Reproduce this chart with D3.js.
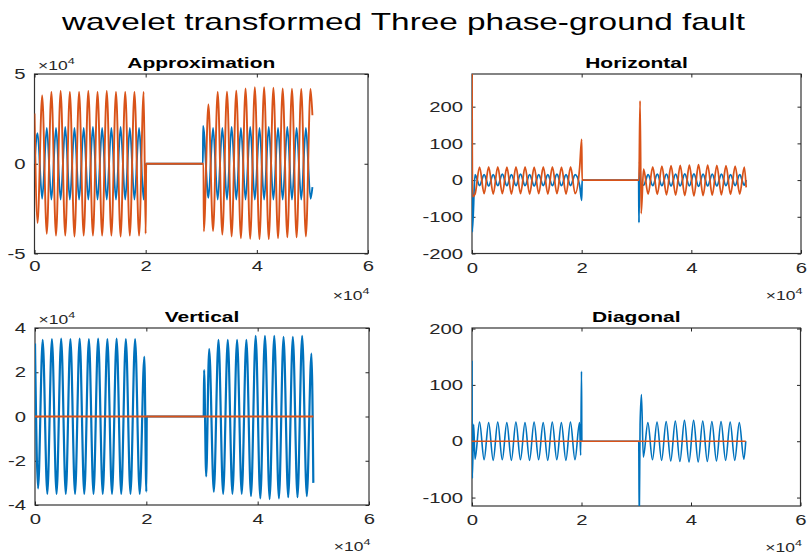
<!DOCTYPE html>
<html><head><meta charset="utf-8">
<script src="https://cdn.jsdelivr.net/npm/d3@7"></script>
<style>
body{margin:0;background:#fff}
svg{display:block}
text{font-family:"Liberation Sans",Arial,Helvetica,sans-serif}
</style>
</head><body>
<svg id="chart" width="809" height="555"></svg>
<script>
// ---------------- DATA ----------------
const mainTitle = "wavelet transformed Three phase-ground fault";
const panelTitles = ["Approximation", "Horizontal", "Vertical", "Diagonal"];
const xTicks = [0, 20000, 40000, 60000];
const approxYTicks = [-50000, 0, 50000];
const horizYTicks = [-200, -100, 0, 100, 200];
const vertYTicks = [-40000, -20000, 0, 20000, 40000];
const diagYTicks = [-100, 0, 100, 200];

// times of the successive extrema in the pre-fault and post-clearing segments
const extremaT1 = [550, 1380, 2210, 3040, 3870, 4700, 5530, 6360, 7190, 8020, 8850, 9680,
  10510, 11340, 12170, 13000, 13830, 14660, 15490, 16320, 17150, 17980, 18810, 19640];
const extremaT2 = [31290, 32125, 32960, 33795, 34630, 35465, 36300, 37135, 37970, 38805, 39640, 40475,
  41310, 42145, 42980, 43815, 44650, 45485, 46320, 47155, 47990, 48825, 49660];

// Approximation
const approxOrange1 = [-33000, 38000, -39000, 40000, -40000, 40500,
  -40000, 40000, -40500, 40000, -40000, 40500,
  -40000, 40000, -40000, 40500, -40000, 40000,
  -40500, 40000, -40000, 40000, -40000, 40000];
const approxOrange2 = [33000, -37500, 40000, -39500, 40200, -40500,
  40700, -41500, 42000, -41800, 42600, -42000,
  42600, -42000, 42300, -41500, 42000, -41000,
  41800, -41000, 41700, -40500, 41700];
const approxOrangeStart = [[0, 28000]];
const approxOrangeMid = [[20000, -39000], [20100, 0], [30400, 0], [30460, -37600]];
const approxOrangeEnd = [[50000, 27000]];
const approxBlue1 = [17000, -19500, 20000, -20000, 20000, -20000,
  20500, -20000, 20000, -20000, 20000, -20000,
  20500, -20000, 20000, -20000, 20000, -20000,
  20500, -20000, 20000, -20000, 20000, -20000];
const approxBlue2 = [-19000, 20000, -20000, 20000, -20000, 20500,
  -20000, 20000, -20000, 20500, -20000, 20000,
  -20000, 20500, -20000, 20000, -20000, 20500,
  -20000, 20000, -20000, 20000, -19500];
const approxBlueStart = [[0, 0]];
const approxBlueMid = [[20000, 0], [30300, 0], [30330, 21000]];
const approxBlueEnd = [[50000, -13000]];

// Horizontal
const horizOrange1 = [-38, 35, -37, 36, -38, 36,
  -37, 35, -38, 36, -37, 36,
  -38, 35, -37, 36, -38, 36,
  -37, 35, -38, 36, -37, 35];
const horizOrange2 = [30, -38, 36, -39, 38, -40,
  39, -41, 40, -42, 41, -43,
  42, -42, 41, -41, 40, -40,
  39, -39, 38, -38, 35];
const horizOrangeStart = [[0, 289], [100, -45]];
const horizOrangeMid = [[20000, 111], [20080, 0], [30450, 0], [30650, 216], [30850, -91]];
const horizOrangeEnd = [[50000, -20]];
const horizBlue1 = [15, -15, 15, -16, 15, -15,
  16, -15, 15, -15, 16, -15,
  15, -16, 15, -15, 15, -15,
  16, -15, 15, -15, 15, -15];
const horizBlue2 = [-14, 15, -15, 16, -15, 16,
  -16, 16, -16, 17, -16, 17,
  -17, 16, -16, 16, -16, 16,
  -15, 15, -15, 15, -14];
const horizBlueStart = [[0, 0], [50, -141]];
const horizBlueMid = [[20000, -55], [20080, 0], [30400, 0], [30450, -116], [30560, 50], [30800, -10]];
const horizBlueEnd = [[50000, 0]];

// Vertical
const vertBlue1 = [-32500, 34700, -35000, 35000, -35000, 35200,
  -35000, 35000, -35000, 35200, -35000, 35000,
  -35000, 35200, -35000, 35000, -35000, 35200,
  -35000, 35000, -35000, 35000, -35000, 27000];
const vertBlue2 = [30500, -34000, 34700, -35000, 34700, -35000,
  34700, -35000, 34700, -36000, 36500, -37000,
  36500, -37300, 36500, -37000, 36000, -36500,
  36000, -36500, 36500, -36000, 28400];
const vertBlueStart = [[0, 33000]];
const vertBlueMid = [[20000, -34000], [20080, 0], [30300, 0], [30380, 21000], [30750, -27000]];
const vertBlueEnd = [[50000, -30000]];
const vertOrangeX = [0, 50000];
const vertOrangeY = [0, 0];

// Diagonal
const diagBlue1 = [-32, 34, -33, 33, -34, 34,
  -33, 33, -34, 34, -33, 33,
  -34, 34, -33, 33, -34, 34,
  -33, 33, -34, 34, -33, 33];
const diagBlue2 = [-28, 33, -33, 34, -34, 35,
  -35, 36, -36, 37, -37, 37,
  -37, 36, -36, 35, -35, 35,
  -34, 34, -34, 33, -32];
const diagBlueStart = [[0, 143], [60, -66], [300, 30]];
const diagBlueMid = [[19850, -25], [20000, 124], [20070, 0], [30450, 0], [30550, -140], [30700, 30], [30950, 83]];
const diagBlueEnd = [[50000, 0]];
const diagOrangeX = [0, 50000];
const diagOrangeY = [0, 0];

// ---------------- BUILD ----------------
const BLUE = "#0072BD", ORANGE = "#D95319", INK = "#262626";
const K = 1.4; // horizontal stretch of the reference's text

function zip(ts, vs) { return ts.map((t, i) => [t, vs[i]]); }
function build(start, v1, mid, v2, end) {
  return [].concat(start, zip(extremaT1, v1), mid, zip(extremaT2, v2), end);
}

const panels = [
  { title: panelTitles[0], l: 34.5, r: 368, t: 74, b: 253.5, yDomain: [-50000, 50000], yTicks: approxYTicks, fmt: d => d / 1e4, yExp: true, xPad: 7, sw: 1.9,
    series: [
      { pts: build(approxBlueStart, approxBlue1, approxBlueMid, approxBlue2, approxBlueEnd), color: BLUE },
      { pts: build(approxOrangeStart, approxOrange1, approxOrangeMid, approxOrange2, approxOrangeEnd), color: ORANGE }
    ] },
  { title: panelTitles[1], l: 472, r: 801, t: 74, b: 253.5, yDomain: [-200, 289], yTicks: horizYTicks, fmt: d => d, yExp: false, xPad: 9, sw: 1.8,
    series: [
      { pts: build(horizBlueStart, horizBlue1, horizBlueMid, horizBlue2, horizBlueEnd), color: BLUE },
      { pts: build(horizOrangeStart, horizOrange1, horizOrangeMid, horizOrange2, horizOrangeEnd), color: ORANGE }
    ] },
  { title: panelTitles[2], l: 35, r: 369, t: 328, b: 505, yDomain: [-40000, 40000], yTicks: vertYTicks, fmt: d => d / 1e4, yExp: true, xPad: 9, sw: 2.2,
    series: [
      { pts: build(vertBlueStart, vertBlue1, vertBlueMid, vertBlue2, vertBlueEnd), color: BLUE },
      { pts: zip(vertOrangeX, vertOrangeY), color: ORANGE }
    ] },
  { title: panelTitles[3], l: 472, r: 800.5, t: 328, b: 506, yDomain: [-115, 201], yTicks: diagYTicks, fmt: d => d, yExp: false, xPad: 9, sw: 1.6,
    series: [
      { pts: build(diagBlueStart, diagBlue1, diagBlueMid, diagBlue2, diagBlueEnd), color: BLUE },
      { pts: zip(diagOrangeX, diagOrangeY), color: ORANGE }
    ] }
];

const svg = d3.select("#chart");
svg.append("rect").attr("width", 809).attr("height", 555).attr("fill", "#fff");

// main title
svg.append("text").attr("x", 62).attr("y", 30)
  .attr("font-size", 24).attr("fill", "#000")
  .attr("textLength", 683).attr("lengthAdjust", "spacingAndGlyphs")
  .text(mainTitle);

function stretchedText(parent, x, y, anchor) {
  return parent.append("g").attr("transform", `translate(${x},${y}) scale(${K},1)`)
    .append("text").attr("text-anchor", anchor);
}

function expLabel(parent, x, y, anchor) {
  const t = stretchedText(parent, x, y, anchor).attr("font-size", 12.5).attr("fill", INK);
  t.append("tspan").text("\u00d710");
  t.append("tspan").attr("font-size", 9).attr("dy", -6).text("4");
}

panels.forEach((p, i) => {
  const x = d3.scaleLinear().domain([0, 60000]).range([p.l, p.r]);
  const y = d3.scaleLinear().domain(p.yDomain).range([p.b, p.t]);
  const g = svg.append("g");

  g.append("rect").attr("x", p.l).attr("y", p.t).attr("width", p.r - p.l).attr("height", p.b - p.t)
    .attr("fill", "#fff").attr("stroke", "#333").attr("stroke-width", 1.2);

  const styleAxis = sel => {
    sel.select(".domain").remove();
    sel.selectAll(".tick line").attr("stroke", INK);
    sel.selectAll("text").attr("fill", INK).attr("font-size", 14.5)
      .attr("font-family", "'Liberation Sans', Arial, sans-serif");
  };

  const bottom = g.append("g").attr("transform", `translate(0,${p.b})`)
    .call(d3.axisBottom(x).tickValues(xTicks).tickFormat(d => d / 1e4).tickSizeInner(-3.5).tickSizeOuter(0).tickPadding(p.xPad));
  styleAxis(bottom);
  bottom.selectAll("text").attr("transform", `scale(${K},1)`);

  const top = g.append("g").attr("transform", `translate(0,${p.t})`)
    .call(d3.axisTop(x).tickValues(xTicks).tickFormat("").tickSizeInner(-3.5).tickSizeOuter(0));
  styleAxis(top);

  const left = g.append("g").attr("transform", `translate(${p.l},0)`)
    .call(d3.axisLeft(y).tickValues(p.yTicks).tickFormat(p.fmt).tickSizeInner(-3.5).tickSizeOuter(0).tickPadding(9));
  styleAxis(left);
  left.selectAll("text").attr("x", -9 / K).attr("transform", `scale(${K},1)`);

  const right = g.append("g").attr("transform", `translate(${p.r},0)`)
    .call(d3.axisRight(y).tickValues(p.yTicks).tickFormat("").tickSizeInner(-3.5).tickSizeOuter(0));
  styleAxis(right);

  // data
  const clipId = "clip" + i;
  svg.append("clipPath").attr("id", clipId).append("rect")
    .attr("x", p.l).attr("y", p.t).attr("width", p.r - p.l).attr("height", p.b - p.t);
  const line = d3.line().x(d => x(d[0])).y(d => y(d[1])).curve(d3.curveMonotoneX);
  const dg = g.append("g").attr("clip-path", `url(#${clipId})`);
  p.series.forEach(s => {
    dg.append("path").datum(s.pts).attr("d", line)
      .attr("fill", "none").attr("stroke", s.color).attr("stroke-width", p.sw)
      .attr("stroke-linejoin", "round");
  });

  // panel title
  stretchedText(g, (p.l + p.r) / 2, p.t - 6.5, "middle")
    .attr("font-size", 15).attr("font-weight", "bold").attr("fill", "#000").text(p.title);

  // exponent labels
  if (p.yExp) expLabel(g, p.l + 3.5, p.t - 4, "start");
  expLabel(g, p.r + 1.5, p.b + 46, "end");
});
</script>
</body></html>
